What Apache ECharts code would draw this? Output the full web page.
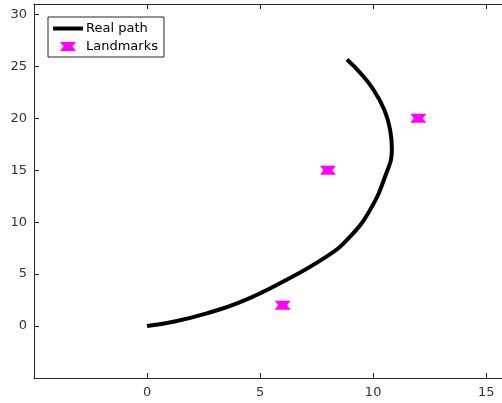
<!DOCTYPE html>
<html>
<head>
<meta charset="utf-8">
<script src="https://cdn.jsdelivr.net/npm/echarts@6/dist/echarts.min.js"></script>
<style>html,body{margin:0;padding:0;background:#fff}#c{width:502px;height:403px}</style>
</head>
<body>
<div id="c"></div>
<script>
// Real path (x, y)
const pathX = [0, 1.17, 2.64, 4.12, 5.88, 7.95, 8.98, 9.87, 10.53, 10.83, 10.75, 10.5, 10.0, 9.42, 8.84];
const pathY = [0, 0.41, 1.22, 2.3, 4.12, 6.7, 8.6, 11.2, 14.4, 17.0, 18.9, 20.8, 22.8, 24.4, 25.65];
// Landmarks
const landX = [6, 8, 12];
const landY = [2, 15, 20];
const xTicks = [0, 5, 10, 15];
const yTicks = [0, 5, 10, 15, 20, 25, 30];

const pathData = pathX.map((x, i) => [x, pathY[i]]);
const landData = landX.map((x, i) => [x, landY[i]]);
const markerPath = 'path://M0,0 L16,0 L12.5,4.5 L16,9 L0,9 L3.5,4.5 Z';
const lineIcon = 'path://M0,0 L30,0 L30,4 L0,4 Z';
const axisColor = '#262626';
const font = 'DejaVu Sans';

const chart = echarts.init(document.getElementById('c'));
chart.setOption({
  animation: false,
  backgroundColor: '#fff',
  textStyle: { fontFamily: font },
  grid: { left: 34, top: 4, right: 0, bottom: 25, containLabel: false },
  legend: {
    left: 48, top: 17,
    orient: 'vertical',
    backgroundColor: '#fff',
    borderColor: axisColor, borderWidth: 1, borderRadius: 0,
    padding: [5, 6, 4, 5],
    itemWidth: 30, itemHeight: 9, itemGap: 5,
    textStyle: { fontFamily: font, fontSize: 13, color: '#000', padding: [0, 0, 0, -2] },
    data: [{ name: 'Real path', icon: lineIcon, itemStyle: { color: '#000' } }, { name: 'Landmarks', icon: markerPath }]
  },
  xAxis: [{
    type: 'value', min: -5, max: 15.7, interval: 5, position: 'bottom',
    axisLine: { show: true, onZero: false, lineStyle: { color: axisColor, width: 1 } },
    axisTick: { show: true, inside: true, length: 5, lineStyle: { color: axisColor } },
    axisLabel: { show: true, showMinLabel: false, showMaxLabel: false, margin: 8, color: '#333', fontSize: 13, fontFamily: font,
      formatter: v => xTicks.includes(v) ? String(v) : '' },
    splitLine: { show: false }
  }, {
    type: 'value', min: -5, max: 15.7, interval: 5, position: 'top',
    axisLine: { show: true, onZero: false, lineStyle: { color: axisColor, width: 1 } },
    axisTick: { show: true, inside: true, length: 5, lineStyle: { color: axisColor } },
    axisLabel: { show: false }, splitLine: { show: false }
  }],
  yAxis: [{
    type: 'value', min: -5, max: 31, interval: 5, position: 'left',
    axisLine: { show: true, onZero: false, lineStyle: { color: axisColor, width: 1 } },
    axisTick: { show: true, inside: true, length: 5, lineStyle: { color: axisColor } },
    axisLabel: { show: true, showMinLabel: false, showMaxLabel: false, margin: 7, color: '#333', fontSize: 13, fontFamily: font,
      formatter: v => yTicks.includes(v) ? String(v) : '' },
    splitLine: { show: false }
  }, {
    type: 'value', min: -5, max: 31, interval: 5, position: 'right',
    axisLine: { show: false, onZero: false },
    axisTick: { show: false },
    axisLabel: { show: false }, splitLine: { show: false }
  }],
  series: [{
    name: 'Real path', type: 'line', data: pathData,
    xAxisIndex: 0, yAxisIndex: 0,
    showSymbol: false, symbol: 'none', smooth: 0.45,
    lineStyle: { color: '#000', width: 4, cap: 'butt' },
    itemStyle: { color: '#000' }
  }, {
    name: 'Landmarks', type: 'scatter', data: landData,
    xAxisIndex: 0, yAxisIndex: 0,
    symbol: markerPath, symbolSize: [16, 9], symbolKeepAspect: false,
    itemStyle: { color: '#ff00ff', opacity: 1 }
  }]
});
</script>
</body>
</html>
